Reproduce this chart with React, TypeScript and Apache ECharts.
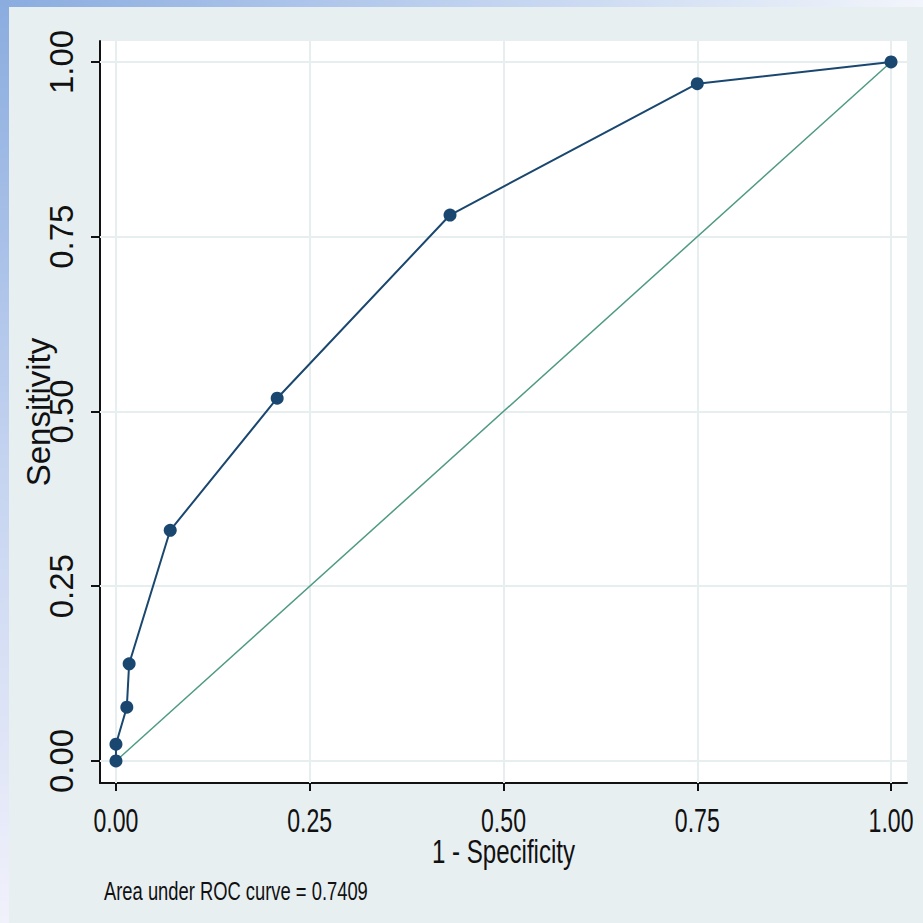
import React, { useEffect, useRef } from "react";
import * as echarts from "echarts";

const fpr = [0, 0, 0.014, 0.017, 0.07, 0.208, 0.431, 0.75, 1];
const tpr = [0, 0.024, 0.077, 0.139, 0.33, 0.519, 0.781, 0.969, 1];
const refX = [0, 1];
const refY = [0, 1];
const tickValues = [0, 0.25, 0.5, 0.75, 1];
const tickLabels = ["0.00", "0.25", "0.50", "0.75", "1.00"];
const xTitle = "1 - Specificity";
const yTitle = "Sensitivity";
const note = "Area under ROC curve = 0.7409";

const REG = "'Liberation Sans', Arial, sans-serif";
const X_MIN = -0.0206;
const X_MAX = 1.0206;
const Y_MIN = -0.0315;
const Y_MAX = 1.03;

export default function App() {
  const ref = useRef<HTMLDivElement>(null);
  useEffect(() => {
    document.body.style.margin = "0";
    if (!ref.current) return;
    const chart = echarts.init(ref.current, null, { renderer: "svg" });
    const rocData = fpr.map((x, i) => [x, tpr[i]]);
    const refData = refX.map((x, i) => [x, refY[i]]);
    const gridColor = "#e6eef0";
    const baseGraphics: any[] = [
      {
        type: "rect",
        shape: { x: 0, y: 0, width: 923, height: 7 },
        style: {
          fill: new echarts.graphic.LinearGradient(0, 0, 1, 0, [
            { offset: 0, color: "#8aacdf" },
            { offset: 0.4, color: "#b4caec" },
            { offset: 1, color: "#f2f5fb" },
          ]),
        },
        z: 0,
      },
      {
        type: "rect",
        shape: { x: 0, y: 0, width: 9, height: 923 },
        style: {
          fill: new echarts.graphic.LinearGradient(0, 0, 0, 1, [
            { offset: 0, color: "#8aacdf" },
            { offset: 0.5, color: "#c4d3f0" },
            { offset: 1, color: "#f1f1fb" },
          ]),
        },
        z: 0,
      },
    ];
    chart.setOption({
      animation: false,
      backgroundColor: "#e8eff1",
      graphic: baseGraphics,
      grid: {
        left: 100,
        right: 16,
        top: 41,
        bottom: 140,
        show: true,
        backgroundColor: "#ffffff",
        borderWidth: 0,
        containLabel: false,
        outerBoundsMode: "none",
      },
      xAxis: {
        type: "value",
        min: X_MIN,
        max: X_MAX,
        axisLine: { show: true, onZero: false, lineStyle: { color: "#111", width: 2 } },
        axisTick: { show: true, customValues: tickValues, length: 8, lineStyle: { color: "#111", width: 2 } },
        axisLabel: { show: false },
        splitLine: { show: false },
      },
      yAxis: {
        type: "value",
        min: Y_MIN,
        max: Y_MAX,
        name: yTitle,
        nameLocation: "middle",
        nameRotate: 90,
        nameGap: 45,
        nameMoveOverlap: false,
        nameTextStyle: { fontFamily: REG, fontSize: 33, color: "#111" },
        axisLine: { show: true, onZero: false, lineStyle: { color: "#111", width: 2 } },
        axisTick: { show: true, customValues: tickValues, length: 9, lineStyle: { color: "#111", width: 2 } },
        axisLabel: {
          customValues: tickValues,
          formatter: (v: number) => v.toFixed(2),
          rotate: 90,
          fontFamily: REG,
          fontSize: 33,
          color: "#111",
          margin: 22,
        },
        splitLine: { show: false },
      },
      series: [
        {
          type: "line",
          data: [],
          silent: true,
          z: 1,
          markLine: {
            silent: true,
            z: 1,
            symbol: "none",
            label: { show: false },
            lineStyle: { color: gridColor, width: 2, type: "solid" },
            data: [
              ...tickValues.map((v) => ({ xAxis: v })),
              ...tickValues.map((v) => ({ yAxis: v })),
            ],
          },
        },
        {
          type: "line",
          data: refData,
          showSymbol: false,
          symbol: "none",
          lineStyle: { color: "#4f9a84", width: 1.5 },
          z: 3,
        },
        {
          type: "line",
          data: rocData,
          symbol: "circle",
          symbolSize: 13,
          showSymbol: true,
          itemStyle: { color: "#1a476f" },
          lineStyle: { color: "#1a476f", width: 2 },
          z: 4,
        },
      ],
    });

    // condensed x-axis labels placed with the axis scale
    const axisY = chart.convertToPixel({ yAxisIndex: 0 }, Y_MIN) as number;
    const leftX = chart.convertToPixel({ xAxisIndex: 0 }, X_MIN) as number;
    const midX = chart.convertToPixel({ xAxisIndex: 0 }, 0.5) as number;
    const labelGraphics = tickValues.map((v, i) => ({
      type: "text",
      x: chart.convertToPixel({ xAxisIndex: 0 }, v) as number,
      y: axisY + 21,
      scaleX: 0.7,
      style: {
        text: tickLabels[i],
        font: `33px ${REG}`,
        fill: "#111",
        align: "center",
        verticalAlign: "top",
      },
    }));
    chart.setOption({
      graphic: [
        ...baseGraphics,
        ...labelGraphics,
        {
          type: "text",
          x: midX,
          y: axisY + 52,
          scaleX: 0.73,
          style: {
            text: xTitle,
            font: `33px ${REG}`,
            fill: "#111",
            align: "center",
            verticalAlign: "top",
          },
        },
        {
          type: "text",
          x: leftX + 4,
          y: axisY + 96,
          scaleX: 0.735,
          style: {
            text: note,
            font: `25px ${REG}`,
            fill: "#111",
            align: "left",
            verticalAlign: "top",
          },
        },
      ],
    });
    return () => chart.dispose();
  }, []);
  return <div ref={ref} style={{ width: 923, height: 923 }} />;
}
